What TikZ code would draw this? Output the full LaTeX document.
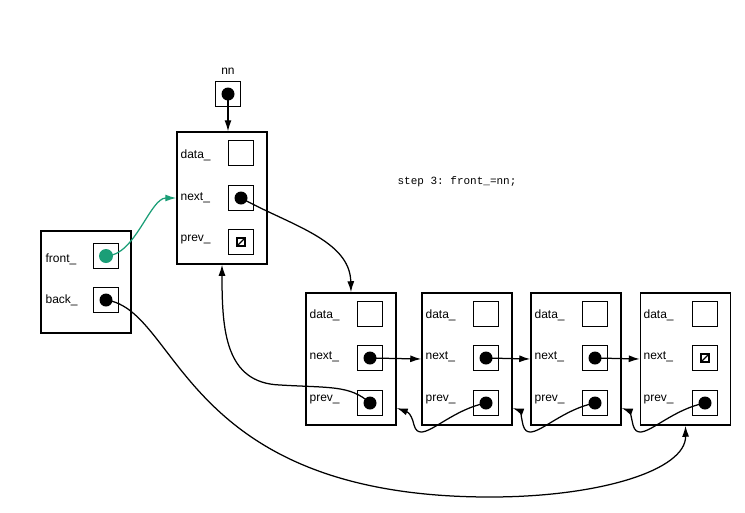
\documentclass[tikz,border=0pt]{standalone}
\usepackage{fontspec}
\setmainfont{Liberation Sans}
\setmonofont{Liberation Mono}
\usepackage{xcolor}
\usetikzlibrary{arrows.meta}
\definecolor{frontgreen}{HTML}{1B9E77}

\begin{document}
\begin{tikzpicture}[x=1pt,y=-1pt,line width=1.25pt,
	  >={Latex[length=11pt,width=7pt]},
	  box/.style={draw, line width=1.5pt, minimum width=90pt, minimum height=132pt, inner sep=0pt},
	  cell/.style={draw, line width=1.4pt, minimum size=25pt, inner sep=0pt},
	  dot/.style={circle, fill=black, minimum size=13pt, inner sep=0pt},
	  lbl/.style={anchor=west, inner sep=0pt, font=\fontsize{12}{14}\selectfont},
	  nil/.style={draw, minimum size=8pt, inner sep=0pt,
	    path picture={\draw (path picture bounding box.south west) -- (path picture bounding box.north east);}}]
	  \useasboundingbox (0,0) rectangle (745,512);
	  % nn
	  \node[lbl, anchor=center] (nnlbl) at (228,71) {nn};
	  \node[cell] (nn) at (228,94) {};
	  \node[dot] (dnn) at (nn) {};
	  % new node
	  \node[box] (n0) at (222,198) {};
	  \node[lbl] (l0d) at (180,155) {data\_};
	  \node[lbl] (l0n) at (180,198) {next\_};
	  \node[lbl] (l0p) at (180,240) {prev\_};
	  \node[cell] (c0d) at (241,153) {};
	  \node[cell] (c0n) at (241,198) {};
	  \node[cell] (c0p) at (241,242) {};
	  \node[dot] (d0n) at (c0n) {};
	  \node[nil] (z0p) at (c0p) {};
	  % list
	  \node[box, minimum height=102pt] (lst) at (86,282) {};
	  \node[lbl] (lf) at (45,259) {front\_};
	  \node[lbl] (lb) at (45,300) {back\_};
	  \node[cell] (cf) at (106,256) {};
	  \node[cell] (cb) at (106,300) {};
	  \node[dot, fill=frontgreen, minimum size=14pt] (df) at (cf) {};
	  \node[dot] (db) at (cb) {};
	  % node 1
	  \node[box] (n1) at (351,359) {};
	  \node[lbl] (l1d) at (309,315) {data\_};
	  \node[lbl] (l1n) at (309,357) {next\_};
	  \node[lbl] (l1p) at (309,400) {prev\_};
	  \node[cell] (c1d) at (370,314) {};
	  \node[cell] (c1n) at (370,358) {};
	  \node[cell] (c1p) at (370,403) {};
	  \node[dot] (d1n) at (c1n) {};
	  \node[dot] (d1p) at (c1p) {};
	  % node 2
	  \node[box] (n2) at (467,359) {};
	  \node[lbl] (l2d) at (425,315) {data\_};
	  \node[lbl] (l2n) at (425,357) {next\_};
	  \node[lbl] (l2p) at (425,400) {prev\_};
	  \node[cell] (c2d) at (486,314) {};
	  \node[cell] (c2n) at (486,358) {};
	  \node[cell] (c2p) at (486,403) {};
	  \node[dot] (d2n) at (c2n) {};
	  \node[dot] (d2p) at (c2p) {};
	  % node 3
	  \node[box] (n3) at (576,359) {};
	  \node[lbl] (l3d) at (534,315) {data\_};
	  \node[lbl] (l3n) at (534,357) {next\_};
	  \node[lbl] (l3p) at (534,400) {prev\_};
	  \node[cell] (c3d) at (595,314) {};
	  \node[cell] (c3n) at (595,358) {};
	  \node[cell] (c3p) at (595,403) {};
	  \node[dot] (d3n) at (c3n) {};
	  \node[dot] (d3p) at (c3p) {};
	  % node 4
	  \node[box] (n4) at (685.5,359) {};
	  \node[lbl] (l4d) at (643,315) {data\_};
	  \node[lbl] (l4n) at (643,357) {next\_};
	  \node[lbl] (l4p) at (643,400) {prev\_};
	  \node[cell] (c4d) at (705,314) {};
	  \node[cell] (c4n) at (705,358) {};
	  \node[cell] (c4p) at (705,403) {};
	  \node[nil] (z4n) at (c4n) {};
	  \node[dot] (d4p) at (c4p) {};
	  % step text
	  \node[anchor=west, inner sep=0pt, font=\ttfamily\fontsize{11}{13}\selectfont] (step) at (397,182) {step 3: front\_=nn;};
	  % pointers
	  \draw[->] (dnn.center) -- (dnn |- n0.north);
	  \draw[->, frontgreen] (df.center) .. controls (135,256) and (150,198) .. (n0.west);
	  \draw[->] (d0n.center) .. controls (290,225) and (350,240) .. (n1.north);
	  \draw[->] (d1n.center) -- (n2.west);
	  \draw[->] (d2n.center) -- (n3.west);
	  \draw[->] (d3n.center) -- (n4.west);
	  \draw[->] (d1p.center) .. controls (350,385) and (330,388) .. (280,385) .. controls (225,383) and (222,330) .. (n0.south);
	  \draw[->] (d2p.center) .. controls +(-40,8) and +(6,22) .. ++(-72,22) .. controls +(-3,-14) and +(8,3) .. ([yshift=-49pt]n1.east);
	  \draw[->] (d3p.center) .. controls +(-40,8) and +(6,22) .. ++(-72,22) .. controls +(-3,-14) and +(8,3) .. ([yshift=-49pt]n2.east);
	  \draw[->] (d4p.center) .. controls +(-40,8) and +(6,22) .. ++(-72,22) .. controls +(-3,-14) and +(8,3) .. ([yshift=-49pt]n3.east);
	  \draw[->] (db.center) .. controls (180,310) and (180,497) .. (490,497) .. controls (600,497) and (686,470) .. (n4.south);
	\end{tikzpicture}
\end{document}
